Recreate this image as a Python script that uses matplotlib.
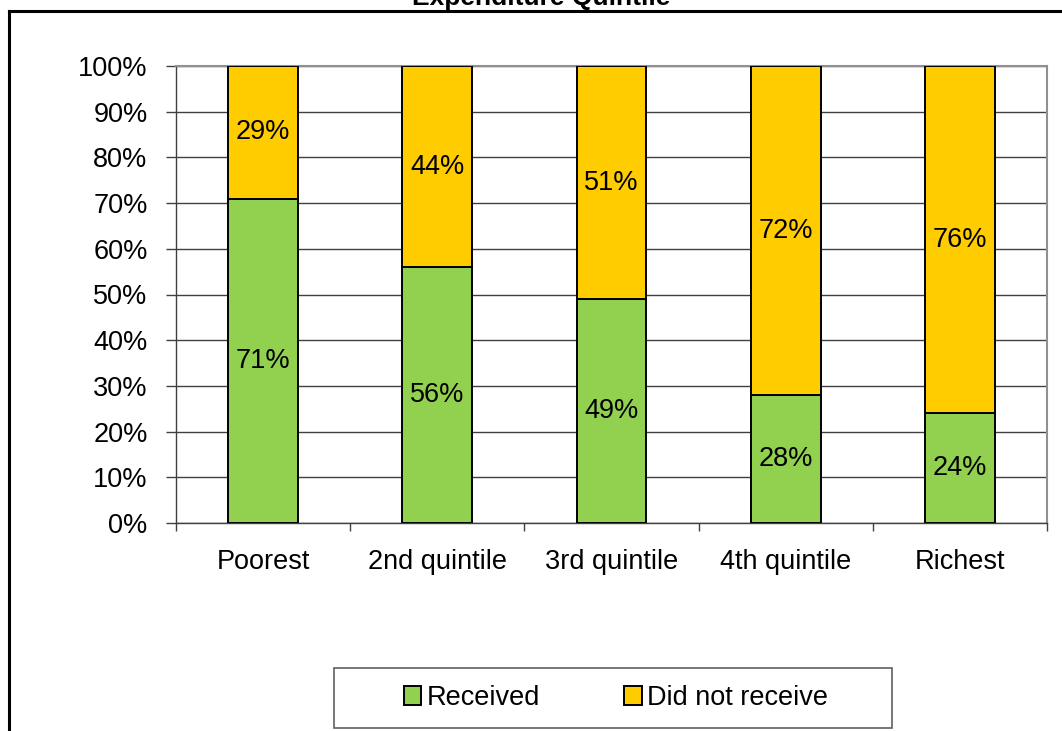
import matplotlib.pyplot as plt
from matplotlib.lines import Line2D
from matplotlib.patches import Rectangle
import numpy as np

plt.rcParams['font.family'] = ['Liberation Sans', 'DejaVu Sans']

categories = ['Poorest', '2nd quintile', '3rd quintile', '4th quintile', 'Richest']
received = [71, 56, 49, 28, 24]
not_received = [29, 44, 51, 72, 76]
series_names = ['Received', 'Did not receive']
colors = ['#92D050', '#FFCC00']

W, H = 1062, 731
FS = 19.5
fig = plt.figure(figsize=(W / 100, H / 100), dpi=100)

# axes area in pixels: x 176..1047, y 66..523
ax = fig.add_axes([176 / W, 1 - 523 / H, (1047 - 176) / W, (523 - 66) / H])

x = np.arange(len(categories))
b1 = ax.bar(x, received, width=0.4, color=colors[0], edgecolor='black',
            linewidth=1.4, label=series_names[0], zorder=3)
b2 = ax.bar(x, not_received, width=0.4, bottom=received, color=colors[1],
            edgecolor='black', linewidth=1.4, label=series_names[1], zorder=3)

for i in range(len(categories)):
    ax.text(x[i], received[i] / 2, f'{received[i]}%', ha='center', va='center',
            fontsize=FS, zorder=4)
    ax.text(x[i], received[i] + not_received[i] / 2, f'{not_received[i]}%',
            ha='center', va='center', fontsize=FS, zorder=4)

ax.set_xlim(-0.5, len(categories) - 0.5)
ax.set_ylim(0, 100)
ax.set_yticks(range(0, 101, 10))
ax.set_yticklabels([f'{v}%' for v in range(0, 101, 10)], fontsize=FS)
ax.set_xticks(x)
ax.set_xticklabels(categories, fontsize=FS)
ax.tick_params(axis='x', length=0, pad=19)
ax.set_xticks(np.arange(-0.5, len(categories), 1), minor=True)
ax.tick_params(axis='x', which='minor', length=6, width=1, color='#404040')
ax.tick_params(axis='y', length=7.5, width=1, color='#404040', pad=13)
ax.yaxis.grid(True, color='#404040', linewidth=1, zorder=0)

for side in ['top', 'right']:
    ax.spines[side].set_color('#909090')
    ax.spines[side].set_linewidth(1.5)
for side in ['left', 'bottom']:
    ax.spines[side].set_color('#404040')
    ax.spines[side].set_linewidth(1)

# outer chart frame (partly cut off)
fig.add_artist(Line2D([9 / W, 9 / W], [0, 1 - 11 / H], color='black', linewidth=2.2))
fig.add_artist(Line2D([9 / W, 1], [1 - 11 / H, 1 - 11 / H], color='black', linewidth=2.2))

fig.text(541 / W, 1 - 5 / H, 'Expenditure Quintile', ha='center', va='baseline',
         fontsize=19, fontweight='bold')

# legend box drawn separately so it can be wider than its content
fig.add_artist(Rectangle((334 / W, 1 - 728 / H), (892 - 334) / W, 60 / H,
                         transform=fig.transFigure, facecolor='white',
                         edgecolor='#606060', linewidth=1.2))
leg = fig.legend(handles=[b1, b2], loc='center', bbox_to_anchor=(616 / W, 1 - 698 / H),
                 ncol=2, frameon=False, fontsize=FS,
                 handlelength=0.65, handleheight=0.65, handletextpad=0.2,
                 columnspacing=3.1, borderaxespad=0)

fig.savefig('out.png', dpi=100)
